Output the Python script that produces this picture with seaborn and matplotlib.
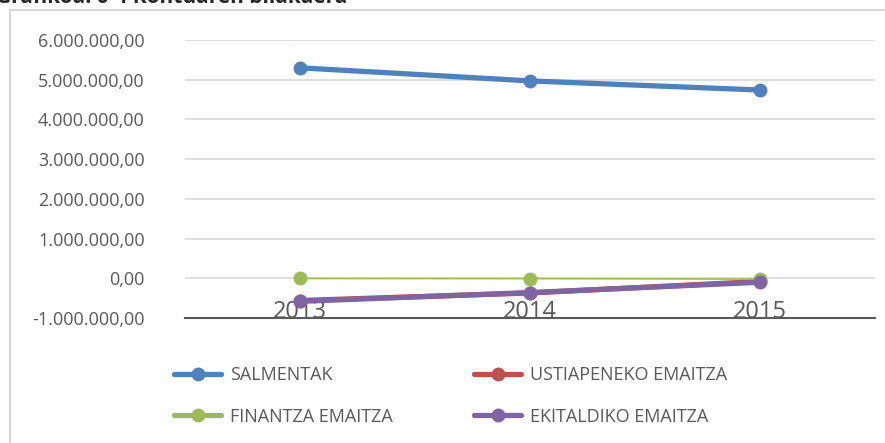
import matplotlib
matplotlib.use("Agg")
from matplotlib import pyplot as plt
from matplotlib.lines import Line2D
from matplotlib.patches import Rectangle
import matplotlib.ticker as mticker
import seaborn as sns
import pandas as pd

years = ["2013", "2014", "2015"]
series_names = ["SALMENTAK", "USTIAPENEKO EMAITZA", "FINANTZA EMAITZA", "EKITALDIKO EMAITZA"]
salmentak = [5300000, 4970000, 4740000]
ustiapeneko = [-560000, -370000, -80000]
finantza = [-5000, -8000, -20000]
ekitaldiko = [-580000, -360000, -100000]
colors = ["#4F81BD", "#C0504D", "#9BBB59", "#8064A2"]

values = [salmentak, ustiapeneko, finantza, ekitaldiko]
df = pd.DataFrame({
    "year": years * 4,
    "serie": [n for n in series_names for _ in years],
    "value": [v for vals in values for v in vals],
})

sns.set_style("white")
plt.rcParams["font.family"] = ["Open Sans", "DejaVu Sans"]

fig = plt.figure(figsize=(8.85, 4.43), dpi=100)
ax = fig.add_axes([185 / 885, 1 - 318 / 443, 690 / 885, 278 / 443])

# chart frame (cut off on right and bottom like the reference)
fig.patches.append(Rectangle((10 / 885, -0.1), 1.2, 1 - 10 / 443 + 0.1,
                             transform=fig.transFigure, fill=False,
                             edgecolor="#d9d9d9", linewidth=1.5, zorder=0))

widths = [3.8, 3.8, 1.2, 3.8]
for name, col, lw in zip(series_names, colors, widths):
    sns.lineplot(data=df[df["serie"] == name], x="year", y="value", ax=ax,
                 color=col, linewidth=lw, marker="o", markersize=10,
                 markeredgewidth=0, legend=False)

ax.set_ylim(-1000000, 6000000)
ax.set_xlim(-0.5, 2.5)
ax.yaxis.set_major_locator(mticker.MultipleLocator(1000000))
ax.yaxis.set_major_formatter(mticker.FuncFormatter(
    lambda v, p: "{:,.2f}".format(v).replace(",", "X").replace(".", ",").replace("X", ".")))
ax.grid(axis="y", color="#d9d9d9", linewidth=1.2)
ax.set_axisbelow(True)
for s in ["top", "right", "left"]:
    ax.spines[s].set_visible(False)
ax.spines["bottom"].set_color("#595959")
ax.spines["bottom"].set_linewidth(1.5)
ax.set_xlabel("")
ax.set_ylabel("")
ax.tick_params(axis="y", length=0, pad=29, labelsize=13, labelcolor="#595959")
ax.tick_params(axis="x", length=0, pad=-13, labelsize=17, labelcolor="#595959")

# legend filled row by row, like the reference
order = [0, 2, 1, 3]
handles = [Line2D([0], [0], color=colors[i], linewidth=3.8, marker="o", markersize=10,
                  markeredgewidth=0) for i in order]
labels = [series_names[i] for i in order]
fig.legend(handles, labels, ncol=2, loc="upper left",
           bbox_to_anchor=(158 / 885, 1 - 350 / 443), frameon=False,
           fontsize=13, labelcolor="#595959", handlelength=2.6,
           columnspacing=4.5, labelspacing=1.3, handletextpad=0.5)

fig.text(-0.005, 1 + 3 / 443, "Grafikoa: 0-4 Kontuaren bilakaera", fontsize=15,
         fontweight="bold", va="center", ha="left", family=["Open Sans", "DejaVu Sans"])

fig.savefig("out.png", dpi=100)
